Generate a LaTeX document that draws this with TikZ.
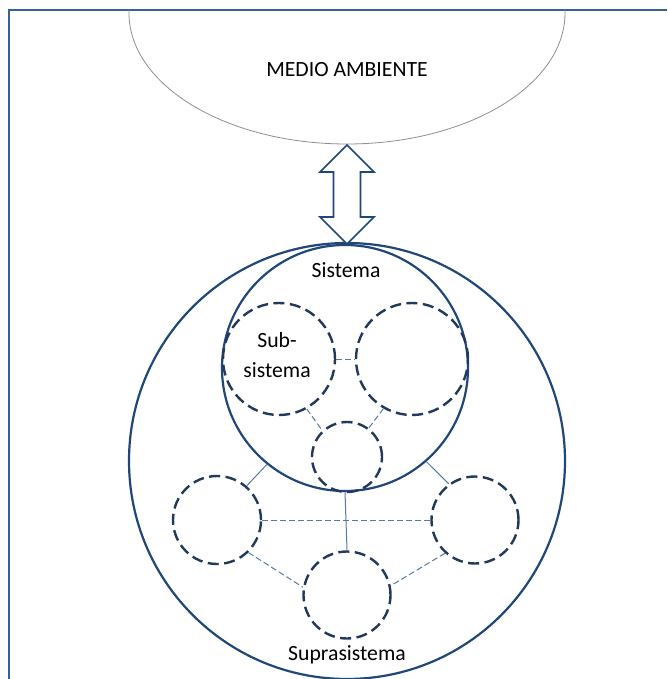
\documentclass[tikz,border=0pt]{standalone}
\usepackage{fontspec}
\setmainfont{Carlito}
\usetikzlibrary{calc,shapes.geometric}
\definecolor{navy}{HTML}{1F4777}
\definecolor{partnavy}{HTML}{22395C}
\definecolor{linkblue}{HTML}{5878A6}
\definecolor{framebl}{HTML}{3A5F95}
\definecolor{envgray}{HTML}{8A8F98}
\begin{document}
\begin{tikzpicture}[x=1pt,y=-1pt,
  lbl/.style={font=\fontsize{21.7}{30}\selectfont, text=black, align=center},
  bigring/.style={circle, draw=navy, line width=2.2pt, inner sep=0pt},
  part/.style={circle, draw=partnavy, line width=2.4pt, dash pattern=on 11pt off 5.5pt, inner sep=0pt},
  solidlink/.style={draw=linkblue, line width=1pt},
  dashlink/.style={draw=linkblue, line width=1pt, dash pattern=on 6pt off 3pt}]
\useasboundingbox (0,0) rectangle (667,679);
\fill[white] (0,0) rectangle (667,679);

% page frame (left and top edges)
\draw[framebl, line width=1.3pt] (9,679) -- (9,10) -- (667,10);

% environment: lower half of an ellipse below the frame edge
\begin{scope}
  \clip (9,11) rectangle (667,679);
  \node[ellipse, draw=envgray, line width=0.8pt, minimum width=436pt, minimum height=262pt, inner sep=0pt] (env) at (347,13) {};
\end{scope}
\node[lbl] (envtext) at (347,70) {MEDIO AMBIENTE};

% suprasystem, system and their parts
\node[bigring, minimum size=436pt] (supra) at (347,461) {};
\node[bigring, minimum size=246pt] (sys) at (345,368) {};
\node[lbl] (systext) at (346,270) {Sistema};
\node[lbl] (supratext) at (347,655) {Suprasistema};

\node[part, minimum size=112pt] (subL) at (279,359) {};
\node[part, minimum size=112pt] (subR) at (412,359) {};
\node[part, minimum size=70pt] (subB) at (347,457) {};
\node[lbl] (subtext) at (277,355) {Sub-\\sistema};

\node[part, minimum size=88pt] (supL) at (217,520) {};
\node[part, minimum size=87pt] (supR) at (475,520) {};
\node[part, minimum size=87pt] (supB) at (347,595) {};

% two-way exchange between system and environment
\coordinate (atop) at (347,145);
\coordinate (abot) at (347,244);
\draw[navy, line width=1.6pt, line join=miter, fill=white]
  (atop) -- ($(atop)+(27,27)$) -- ($(atop)+(13.5,27)$) -- ($(abot)+(13.5,-27)$)
  -- ($(abot)+(27,-27)$) -- (abot) -- ($(abot)+(-27,-27)$) -- ($(abot)+(-13.5,-27)$)
  -- ($(atop)+(-13.5,27)$) -- ($(atop)+(-27,27)$) -- cycle;

% links between the parts of the system
\draw[dashlink] (subL.east) -- (subR.west);
\draw[dashlink] (subL.-61) -- (subB.133);
\draw[dashlink] (subR.240) -- (subB.53);

% links inside the suprasystem
\draw[solidlink] (sys.231) -- (supL.49);
\draw[solidlink] (sys.-49) -- (supR.126);
\draw[solidlink] (sys.south) -- (supB.north);
\draw[dashlink] (supL.east) -- (supR.west);
\draw[dashlink] (supL.-46) -- (supB.170);
\draw[dashlink] (supR.228) -- (supB.12);
\end{tikzpicture}
\end{document}
